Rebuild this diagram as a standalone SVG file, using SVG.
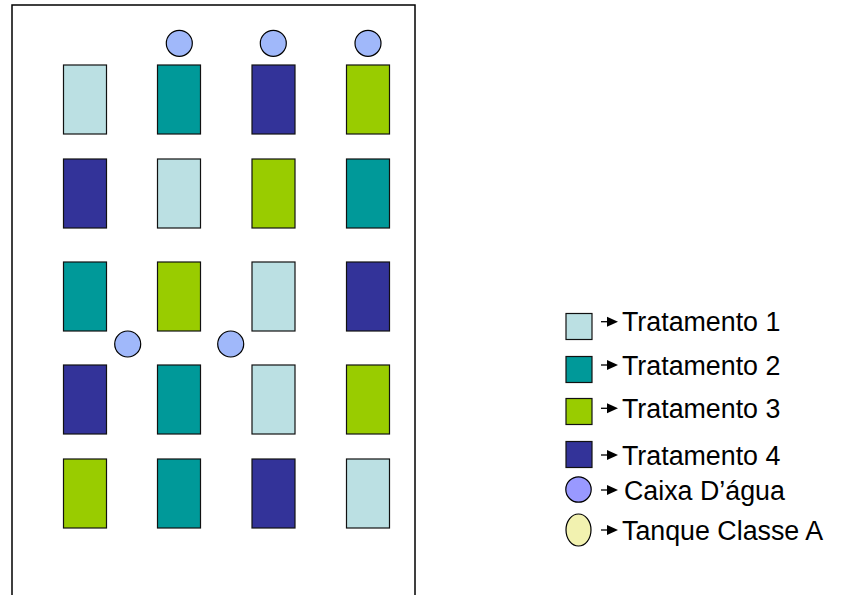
<svg xmlns="http://www.w3.org/2000/svg" width="841" height="595" viewBox="0 0 841 595">
<defs>
<style>
.plot{fill:none;stroke:#000;stroke-width:1.5}
.r{stroke:#111;stroke-width:1.2}
.t1{fill:#BBE0E3}.t2{fill:#009999}.t3{fill:#99CC00}.t4{fill:#333399}
.cx{fill:#A0B8FA;stroke:#000;stroke-width:1.2}
.lc{fill:#9999FF;stroke:#000;stroke-width:1.2}
.tq{fill:#F2F2B0;stroke:#000;stroke-width:1.2}
.arr{stroke:#000;stroke-width:1.3}
.ah{fill:#000}
.lbl{font-family:"Liberation Sans",Arial,sans-serif;font-size:26.8px;fill:#000}
</style>
</defs>
<rect x="0" y="0" width="841" height="595" fill="#fff"/>
<rect class="plot" x="12" y="5" width="403" height="600"/>
<g id="plots">
<rect class="r t1" x="63.5" y="65" width="43" height="69"/>
<rect class="r t2" x="157.5" y="65" width="43" height="69"/>
<rect class="r t4" x="252" y="65" width="43" height="69"/>
<rect class="r t3" x="346.5" y="65" width="43" height="69"/>
<rect class="r t4" x="63.5" y="159" width="43" height="69"/>
<rect class="r t1" x="157.5" y="159" width="43" height="69"/>
<rect class="r t3" x="252" y="159" width="43" height="69"/>
<rect class="r t2" x="346.5" y="159" width="43" height="69"/>
<rect class="r t2" x="63.5" y="262" width="43" height="69"/>
<rect class="r t3" x="157.5" y="262" width="43" height="69"/>
<rect class="r t1" x="252" y="262" width="43" height="69"/>
<rect class="r t4" x="346.5" y="262" width="43" height="69"/>
<rect class="r t4" x="63.5" y="365" width="43" height="69"/>
<rect class="r t2" x="157.5" y="365" width="43" height="69"/>
<rect class="r t1" x="252" y="365" width="43" height="69"/>
<rect class="r t3" x="346.5" y="365" width="43" height="69"/>
<rect class="r t3" x="63.5" y="459" width="43" height="69"/>
<rect class="r t2" x="157.5" y="459" width="43" height="69"/>
<rect class="r t4" x="252" y="459" width="43" height="69"/>
<rect class="r t1" x="346.5" y="459" width="43" height="69"/>
</g>
<g id="caixas">
<circle class="cx" cx="179.3" cy="43.3" r="13"/>
<circle class="cx" cx="273.3" cy="43.3" r="13"/>
<circle class="cx" cx="368" cy="43.3" r="13"/>
<circle class="cx" cx="127.7" cy="344" r="13"/>
<circle class="cx" cx="230.7" cy="344" r="13"/>
</g>
<g id="legend-symbols">
<rect class="r t1" x="566" y="313.5" width="26" height="26"/>
<rect class="r t2" x="566" y="356.5" width="26" height="26"/>
<rect class="r t3" x="566" y="398.5" width="26" height="26"/>
<rect class="r t4" x="566" y="441.5" width="26" height="26"/>
<circle class="lc" cx="578.5" cy="489.5" r="12.7"/>
<ellipse class="tq" cx="578.5" cy="530" rx="12.5" ry="16"/>
</g>
<g id="connectors">
<line class="arr" x1="601" y1="321.7" x2="608" y2="321.7"/><path class="ah" d="M607,316.7 L618,321.7 L607,326.7 z"/>
<line class="arr" x1="601" y1="365" x2="608" y2="365"/><path class="ah" d="M607,360 L618,365 L607,370 z"/>
<line class="arr" x1="601" y1="408.3" x2="608" y2="408.3"/><path class="ah" d="M607,403.3 L618,408.3 L607,413.3 z"/>
<line class="arr" x1="601" y1="455" x2="608" y2="455"/><path class="ah" d="M607,450 L618,455 L607,460 z"/>
<line class="arr" x1="601" y1="490" x2="608" y2="490"/><path class="ah" d="M607,485 L618,490 L607,495 z"/>
<line class="arr" x1="601" y1="530" x2="608" y2="530"/><path class="ah" d="M607,525 L618,530 L607,535 z"/>
</g>
<g id="legend-labels">
<text class="lbl" x="622" y="331">Tratamento 1</text>
<text class="lbl" x="622" y="374.5">Tratamento 2</text>
<text class="lbl" x="622" y="418">Tratamento 3</text>
<text class="lbl" x="622" y="464.5">Tratamento 4</text>
<text class="lbl" x="624" y="499.5">Caixa D’água</text>
<text class="lbl" x="622" y="539.5">Tanque Classe A</text>
</g>
</svg>
